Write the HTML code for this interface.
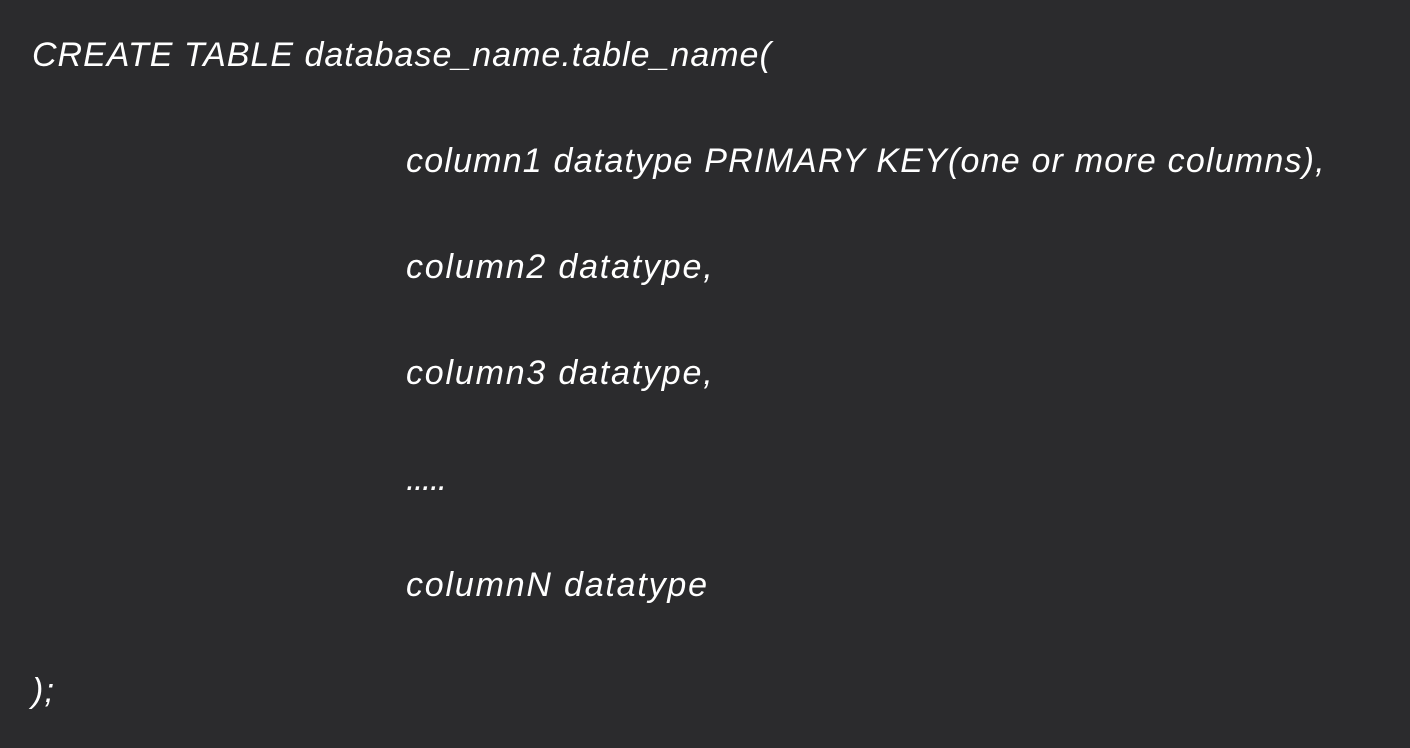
<!DOCTYPE html>
<html><head><meta charset="utf-8"><style>
html,body{margin:0;padding:0;}
body{width:1410px;height:748px;background:#2b2b2d;overflow:hidden;position:relative;font-family:"Liberation Sans",sans-serif;font-style:italic;color:#fff;font-size:34px;}
.l{position:absolute;white-space:nowrap;line-height:1;letter-spacing:1.2px;}
</style></head><body>
<div class="l" style="left:32px;top:38px;letter-spacing:1.0px">CREATE TABLE database_name.table_name(</div>
<div class="l" style="left:406px;top:144px">column1 datatype PRIMARY KEY(one or more columns),</div>
<div class="l" style="left:406px;top:250px;letter-spacing:1.8px">column2 datatype,</div>
<div class="l" style="left:406px;top:356px;letter-spacing:1.8px">column3 datatype,</div>
<div class="l" style="left:406px;top:462px;letter-spacing:-1.5px">.....</div>
<div class="l" style="left:406px;top:568px;letter-spacing:1.8px">columnN datatype</div>
<div class="l" style="left:32px;top:674px">);</div>
</body></html>
